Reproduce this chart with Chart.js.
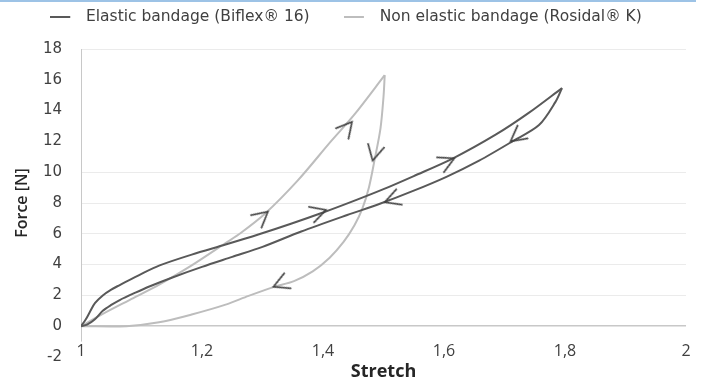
<!DOCTYPE html>
<html>
<head>
<meta charset="utf-8">
<script src="https://cdn.jsdelivr.net/npm/chart.js@4.4.1/dist/chart.umd.min.js"></script>
<style>
  html, body { margin: 0; padding: 0; background: #fff; }
  #wrap { position: relative; width: 706px; height: 385px; }
  #topline { position: absolute; left: 0; top: 0; width: 696px; height: 2px; background: #9dc3e6; }
</style>
</head>
<body>
<div id="wrap">
  <canvas id="chart1" width="706" height="385"></canvas>
  <div id="topline"></div>
</div>
<script>
// Force / stretch loops of the two bandages
const seriesNames = ['Elastic bandage (Biflex® 16)', 'Non elastic bandage (Rosidal® K)'];
const xTickLabels = ['1', '1,2', '1,4', '1,6', '1,8', '2'];

// elastic bandage: loading then unloading
const elasticLoadX = [1.000, 1.008, 1.015, 1.023, 1.036, 1.050, 1.064, 1.100, 1.130, 1.183, 1.239, 1.293, 1.347, 1.400, 1.450, 1.500, 1.550, 1.615, 1.686, 1.740, 1.795];
const elasticLoadY = [0.00, 0.45, 0.95, 1.50, 2.00, 2.38, 2.67, 3.40, 3.95, 4.65, 5.30, 5.95, 6.65, 7.38, 8.12, 8.90, 9.75, 10.90, 12.45, 13.85, 15.46];
const elasticUnloadX = [1.795, 1.784, 1.757, 1.713, 1.658, 1.604, 1.550, 1.494, 1.440, 1.364, 1.300, 1.250, 1.200, 1.150, 1.113, 1.090, 1.064, 1.050, 1.036, 1.023, 1.010, 1.000];
const elasticUnloadY = [15.46, 14.55, 13.06, 12.00, 10.75, 9.70, 8.80, 7.95, 7.22, 6.15, 5.15, 4.50, 3.85, 3.15, 2.58, 2.18, 1.70, 1.38, 1.00, 0.45, 0.10, 0.00];

// non elastic bandage: loading then unloading
const nonLoadX = [1.000, 1.036, 1.080, 1.130, 1.183, 1.239, 1.264, 1.304, 1.358, 1.413, 1.451, 1.502];
const nonLoadY = [0.00, 0.80, 1.70, 2.72, 3.95, 5.40, 6.05, 7.30, 9.45, 12.00, 13.70, 16.30];
const nonUnloadX = [1.502, 1.500, 1.495, 1.485, 1.476, 1.465, 1.452, 1.434, 1.411, 1.383, 1.352, 1.318, 1.277, 1.239, 1.183, 1.129, 1.075, 1.000];
const nonUnloadY = [16.30, 14.90, 12.85, 10.75, 9.03, 7.63, 6.55, 5.47, 4.45, 3.56, 2.93, 2.54, 1.97, 1.40, 0.76, 0.25, 0.00, 0.00];

// direction arrows (tip position, heading in degrees)
const arrowX = [1.405, 1.617, 1.710, 1.502, 1.309, 1.448, 1.482, 1.318];
const arrowY = [7.55, 10.90, 12.00, 8.05, 7.44, 13.27, 10.75, 2.56];
const arrowAngle = [-18, -25, 142, 160, -40, -50, 103, 157];

const darkLine = '#595959';
const lightLine = '#bdbdbd';

function pts(xs, ys) {
    return xs.map((x, i) => ({ x: x, y: ys[i] }));
}

function chevron(color) {
    const c = document.createElement('canvas');
    c.width = 44; c.height = 44;
    const g = c.getContext('2d');
    const len = 18, half = 28 * Math.PI / 180;
    g.strokeStyle = color;
    g.lineWidth = 1.6;
    g.beginPath();
    g.moveTo(22 - len * Math.cos(half), 22 - len * Math.sin(half));
    g.lineTo(22, 22);
    g.lineTo(22 - len * Math.cos(half), 22 + len * Math.sin(half));
    g.stroke();
    return c;
}

function legendLine(color) {
    const c = document.createElement('canvas');
    c.width = 28; c.height = 4;
    const g = c.getContext('2d');
    g.fillStyle = color;
    g.fillRect(0, 1, 20, 2);
    return c;
}

const lineBase = { showLine: true, pointRadius: 0, borderWidth: 2, tension: 0.3, fill: false };

const legendSpace = {
    id: 'legendSpace',
    beforeInit(chart) {
        const fit = chart.legend.fit;
        chart.legend.fit = function () {
            fit.call(this);
            this.height = 74;
        };
    }
};

const ctx = document.getElementById('chart1').getContext('2d');
const chart1 = new Chart(ctx, {
    type: 'scatter',
    data: {
        datasets: [
            Object.assign({ label: seriesNames[0], data: pts(elasticLoadX, elasticLoadY), borderColor: darkLine, backgroundColor: darkLine, order: 1, inLegend: true }, lineBase),
            Object.assign({ label: seriesNames[1], data: pts(nonLoadX, nonLoadY), borderColor: lightLine, backgroundColor: lightLine, order: 2, inLegend: true }, lineBase),
            Object.assign({ label: seriesNames[0], data: pts(elasticUnloadX, elasticUnloadY), borderColor: darkLine, backgroundColor: darkLine, order: 1, inLegend: false }, lineBase),
            Object.assign({ label: seriesNames[1], data: pts(nonUnloadX, nonUnloadY), borderColor: lightLine, backgroundColor: lightLine, order: 2, inLegend: false }, lineBase),
            {
                label: 'arrows',
                data: pts(arrowX, arrowY),
                showLine: false,
                pointStyle: chevron('#404040'),
                pointRadius: 5,
                pointRotation: arrowAngle,
                order: 0,
                inLegend: false,
            }
        ],
    },
    options: {
        responsive: false,
        animation: false,
        events: [],
        layout: { padding: { top: -25, right: 14, bottom: 21.6, left: 0 } },
        plugins: {
            tooltip: { enabled: false },
            legend: {
                position: 'top',
                labels: {
                    font: { family: 'DejaVu Sans', size: 15.5 },
                    color: '#404040',
                    usePointStyle: true,
                    pointStyleWidth: 28,
                    padding: 34.25,
                    filter: (item, data) => data.datasets[item.datasetIndex].inLegend,
                    generateLabels: chart => Chart.defaults.plugins.legend.labels.generateLabels(chart).map(item => {
                        item.pointStyle = legendLine(chart.data.datasets[item.datasetIndex].borderColor);
                        return item;
                    }),
                },
            },
        },
        scales: {
            x: {
                type: 'linear',
                position: { y: 0 },
                min: 1,
                max: 2,
                grid: { display: false, drawTicks: false },
                border: { display: false },
                ticks: {
                    stepSize: 0.2,
                    padding: 15.4,
                    z: 1,
                    showLabelBackdrop: true,
                    backdropColor: '#ffffff',
                    backdropPadding: { top: 0, bottom: 2, left: 3, right: 3 },
                    color: '#404040',
                    font: { family: 'Open Sans', size: 16 },
                    callback: (v, i) => xTickLabels[i],
                },
                title: {
                    display: true,
                    text: 'Stretch',
                    color: '#262626',
                    font: { family: 'Open Sans', size: 18, weight: 'bold', lineHeight: 1 },
                    padding: { top: 0, bottom: 0 },
                },
                afterFit: scale => { scale.height = 55; },
            },
            y: {
                min: -2,
                max: 18,
                grid: {
                    drawTicks: false,
                    color: c => [12, 14, 16, -2].includes(c.tick.value) ? 'rgba(0,0,0,0)' : (c.tick.value === 0 ? '#c8c8c8' : '#ebebeb'),
                    lineWidth: c => c.tick.value === 0 ? 1.5 : 1,
                },
                border: { display: true, color: '#c8c8c8', width: 1 },
                ticks: {
                    stepSize: 2,
                    padding: 19,
                    color: '#404040',
                    font: { family: 'DejaVu Sans', size: 15 },
                },
                title: {
                    display: true,
                    text: 'Force [N]',
                    color: '#262626',
                    font: { family: 'Open Sans', size: 16, weight: '600' },
                    padding: { top: 13, bottom: 0 },
                },
                afterFit: scale => { scale.width = 81; },
            },
        },
    },
    plugins: [legendSpace],
});
</script>
</body>
</html>
